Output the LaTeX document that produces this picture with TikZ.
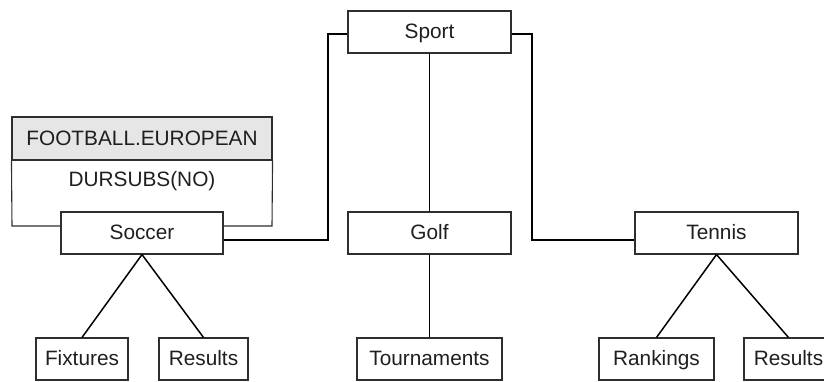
\documentclass[tikz,border=0pt]{standalone}
\usepackage{fontspec}
\setmainfont{Liberation Sans}
\definecolor{boxline}{HTML}{2E2E2E}
\definecolor{hdrgray}{HTML}{E6E6E6}
\tikzset{
  box/.style={draw=boxline, line width=1.1pt, fill=white, inner sep=0pt,
    minimum height=42pt, text height=14.8pt, text depth=1.5pt,
    font=\fontsize{20.8}{22}\selectfont, text=black!88},
  conn/.style={draw=black, line width=1.5pt},
  lbl/.style={inner sep=0pt, text height=14.8pt, text depth=1.5pt,
    font=\fontsize{20.8}{22}\selectfont, text=black!88},
}
\begin{document}
\begin{tikzpicture}[x=1pt,y=-1pt]
\useasboundingbox (0,0) rectangle (824,381);
\clip (0,0) rectangle (824,381);
% FOOTBALL.EUROPEAN frame
\node[box, fill=hdrgray, minimum width=260pt, minimum height=43pt] (hdr) at (142,138.5) {FOOTBALL.EUROPEAN};
\draw[draw=boxline, line width=1.1pt] (hdr.south west) -- (12,226) -- (272,226) -- (hdr.south east);
\node[lbl] (dursubs) at (142,180) {DURSUBS(NO)};
% top and middle row
\node[box, minimum width=163pt] (sport) at (429.5,32) {Sport};
\node[box, minimum width=162pt] (soccer) at (142,233) {Soccer};
\node[box, minimum width=163pt] (golf) at (429.5,233) {Golf};
\node[box, minimum width=163pt] (tennis) at (716.5,233) {Tennis};
% bottom row
\node[box, minimum width=92pt] (fixtures) at (82,359) {Fixtures};
\node[box, minimum width=89pt] (results1) at (203.5,359) {Results};
\node[box, minimum width=145pt] (tourn) at (429.5,359) {Tournaments};
\node[box, minimum width=115pt] (rank) at (656.5,359) {Rankings};
\node[box, minimum width=89pt] (results2) at (788.5,359) {Results};
% connectors
\coordinate (sl) at (328,34);
\coordinate (sr) at (532,34);
\draw[conn] ([yshift=-2pt]sport.west) -- (sl) |- ([yshift=-7pt]soccer.east);
\draw[conn] ([yshift=-2pt]sport.east) -- (sr) |- ([yshift=-7pt]tennis.west);
\draw[conn] (sport.south) -- (golf.north);
\draw[conn] (golf.south) -- (tourn.north);
\draw[conn] (soccer.south) -- (fixtures.north);
\draw[conn] (soccer.south) -- (results1.north);
\draw[conn] (tennis.south) -- (rank.north);
\draw[conn] (tennis.south) -- (results2.north);
\end{tikzpicture}
\end{document}
